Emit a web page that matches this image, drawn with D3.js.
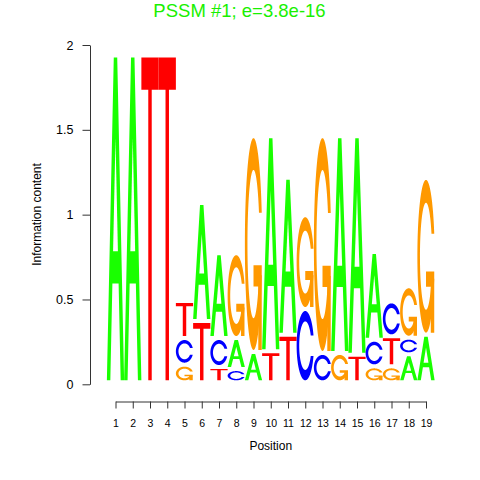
<!DOCTYPE html>
<html>
<head>
<meta charset="utf-8">
<script src="https://cdn.jsdelivr.net/npm/d3@7"></script>
<style>
  body { margin: 0; background: #fff; }
  text { font-family: "Liberation Sans", Arial, sans-serif; }
</style>
</head>
<body>
<script>
// motif data: letters of each column, bottom to top, and their heights (bits)
const positions = d3.range(1, 20);
const stackLetters = ["A", "A", "T", "T", "GCT", "TA", "TCA", "CAG", "AG", "TA",
                      "TA", "CG", "CG", "GA", "TA", "GCA", "GTC", "ACG", "AG"];
const stackHeights = [
  [1.926], [1.926], [1.926], [1.926],
  [0.104, 0.157, 0.218],
  [0.361, 0.696],
  [0.090, 0.171, 0.500],
  [0.078, 0.183, 0.500],
  [0.179, 1.272],
  [0.183, 1.268],
  [0.281, 0.924],
  [0.432, 0.553],
  [0.173, 1.278],
  [0.173, 1.278],
  [0.163, 1.288],
  [0.094, 0.157, 0.517],
  [0.094, 0.177, 0.206],
  [0.165, 0.098, 0.303],
  [0.281, 0.924]
];
const yTicks = [0, 0.5, 1, 1.5, 2];
const yTickLabels = ["0", "0.5", "1", "1.5", "2"];
const titleText = "PSSM #1; e=3.8e-16";

const colours = {A: "#19ff00", C: "#0000ff", G: "#ff9900", T: "#ff0000"};

const width = 480, height = 480;
const letterGap = 4; // small blank under every letter

const x = d3.scaleLinear().domain([1, 19]).range([115.5, 426]);
const y = d3.scaleLinear().domain([0, 2]).range([384.3, 45]);

const svg = d3.select("body").append("svg")
  .attr("width", width)
  .attr("height", height);

// ---- letter shapes in a unit box (like seqLogo) ----
function letterA() {
  const outer = [[0,0],[4,10],[6,10],[10,0],[8,0],[6.8,3],[3.2,3],[2,0]].map(p => [p[0]/10, p[1]/10]);
  const inner = [[3.6,4],[5,7.5],[6.4,4]].map(p => [p[0]/10, p[1]/10]);
  return [{pts: outer, white: false}, {pts: inner, white: true}];
}
function letterT() {
  const pts = [[0,10],[10,10],[10,9],[6,9],[6,0],[4,0],[4,9],[0,9]].map(p => [p[0]/10, p[1]/10]);
  return [{pts: pts, white: false}];
}
function cShape() {
  const a1 = d3.range(100).map(i => 0.3 + Math.PI/2 + i*(Math.PI/2 - 0.3)/99);
  const a2 = d3.range(100).map(i => Math.PI + i*(Math.PI/2)/99);
  const l1 = a1.map(a => [0.5 + 0.5*Math.sin(a), 0.5 + 0.5*Math.cos(a)]);
  const l2 = a2.map(a => [0.5 + 0.5*Math.sin(a), 0.5 + 0.5*Math.cos(a)]);
  const l = l1.concat(l2);
  const outer = l.concat(l.slice().reverse().map(p => [p[0], 1 - p[1]]));
  const hMax = d3.max(l1, p => p[1]);
  let i1 = a1.map(a => [0.5 + 0.35*Math.sin(a), 0.5 + 0.35*Math.cos(a)]).filter(p => p[1] <= hMax);
  i1[0] = [i1[0][0], hMax];
  const i2 = a2.map(a => [0.5 + 0.35*Math.sin(a), 0.5 + 0.35*Math.cos(a)]);
  const li = i1.concat(i2);
  const inner = li.concat(li.slice().reverse().map(p => [p[0], 1 - p[1]]));
  return {pts: outer.concat(inner.slice().reverse()), r1: d3.max(l1, p => p[0])};
}
function letterC() {
  return [{pts: cShape().pts, white: false}];
}
function letterG() {
  const c = cShape();
  const r1 = c.r1, h1 = 0.4;
  const bar = [[r1,h1],[0.5,h1],[0.5,h1-0.1],[r1-0.2,h1-0.1],[r1-0.2,0],[r1,0],[r1,h1]];
  return [{pts: c.pts, white: false}, {pts: bar, white: false}];
}
const glyphs = {A: letterA(), C: letterC(), G: letterG(), T: letterT()};

// ---- build letter rectangles from data ----
const letters = [];
positions.forEach((pos, i) => {
  let cum = 0;
  stackLetters[i].split("").forEach((ch, j) => {
    const h = stackHeights[i][j];
    letters.push({ch: ch, x0: x(pos - 0.5), x1: x(pos + 0.5),
                  yb: y(cum) - letterGap, yt: y(cum + h)});
    cum += h;
  });
});

const line = d3.line();
const logo = svg.append("g");
letters.forEach(d => {
  glyphs[d.ch].forEach(poly => {
    const pts = poly.pts.map(p => [d.x0 + p[0]*(d.x1 - d.x0), d.yb + p[1]*(d.yt - d.yb)]);
    logo.append("path")
      .attr("d", line(pts) + "Z")
      .attr("fill", poly.white ? "#fff" : colours[d.ch]);
  });
});

// ---- axes ----
const yAxis = svg.append("g")
  .attr("transform", "translate(90,0)")
  .call(d3.axisLeft(y).tickValues(yTicks).tickFormat((d, i) => yTickLabels[i])
        .tickSize(7.5).tickSizeOuter(0).tickPadding(9));
yAxis.selectAll("text").attr("font-size", 12.5).attr("fill", "#000").attr("font-family", null);

const xAxis = svg.append("g")
  .attr("transform", "translate(0,401.5)")
  .call(d3.axisBottom(x).tickValues(positions).tickSize(7).tickSizeOuter(0).tickPadding(11));
xAxis.selectAll("text").attr("font-size", 10.5).attr("fill", "#000").attr("font-family", null);

svg.selectAll(".domain, .tick line").attr("stroke", "#333");

// ---- titles ----
svg.append("text")
  .attr("x", 239.5).attr("y", 17)
  .attr("text-anchor", "middle")
  .attr("font-size", 18.5)
  .attr("fill", "#19f000")
  .text(titleText);

svg.append("text")
  .attr("x", 270.75).attr("y", 449.5)
  .attr("text-anchor", "middle")
  .attr("font-size", 12)
  .text("Position");

svg.append("text")
  .attr("transform", "translate(41,214.5) rotate(-90)")
  .attr("text-anchor", "middle")
  .attr("font-size", 12)
  .text("Information content");
</script>
</body>
</html>
